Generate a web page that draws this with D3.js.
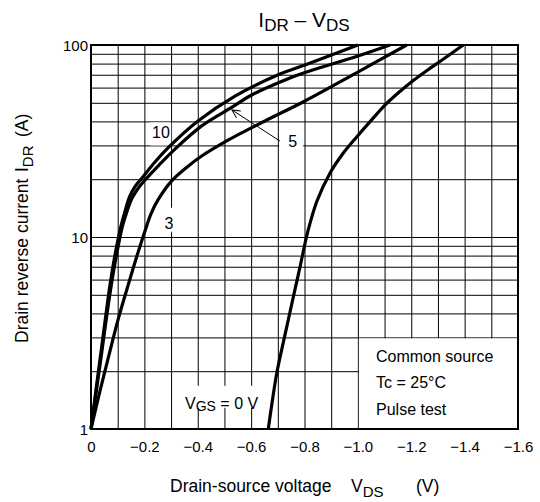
<!DOCTYPE html>
<html><head><meta charset="utf-8">
<script src="https://cdn.jsdelivr.net/npm/d3@7"></script>
<style>
body{margin:0;background:#fff}
text{font-family:"Liberation Sans",Arial,Helvetica,sans-serif;fill:#000}
</style>
</head><body>
<svg id="chart" width="540" height="502"></svg>
<script>
// ---- data ----
const xTickValues = [0, -0.2, -0.4, -0.6, -0.8, -1.0, -1.2, -1.4, -1.6];
const xGridValues = [-0.1, -0.2, -0.3, -0.4, -0.5, -0.6, -0.7, -0.8, -0.9, -1.0, -1.1, -1.2, -1.3, -1.4, -1.5];
const yTickValues = [1, 10, 100];
const yGridValues = [2, 3, 4, 5, 6, 7, 8, 9, 10, 20, 30, 40, 50, 60, 70, 80, 90];

// VGS = 10 V
const vds10 = [0, -0.0187, -0.0375, -0.0562, -0.0712, -0.0899, -0.1124, -0.1274, -0.1443, -0.1649, -0.1911, -0.2398, -0.296, -0.4009, -0.5395, -0.7081, -0.8018, -1.0];
const idr10 = [1, 1.60, 2.52, 3.97, 5.62, 8.06, 11.4, 13.6, 16.2, 18.3, 20.3, 24.6, 29.8, 40.2, 54.2, 70.6, 78.7, 100];

// VGS = 5 V
const vds5 = [0, -0.0206, -0.0405, -0.0599, -0.0761, -0.0955, -0.118, -0.1349, -0.1536, -0.1761, -0.2023, -0.2548, -0.3147, -0.4148, -0.5272, -0.6021, -0.7456, -0.8018, -1.0, -1.12];
const idr5 = [1, 1.60, 2.52, 3.97, 5.62, 8.06, 11.4, 13.6, 15.9, 17.9, 19.8, 23.7, 28.7, 37.9, 47.3, 54.9, 67.3, 71.9, 87.6, 100];

// VGS = 3 V
const vds3 = [0, -0.0337, -0.0674, -0.1012, -0.1349, -0.1686, -0.2023, -0.2248, -0.251, -0.3024, -0.356, -0.4148, -0.502, -0.652, -0.802, -1.0, -1.183];
const idr3 = [1, 1.58, 2.43, 3.70, 5.36, 7.68, 10.75, 13.2, 15.6, 19.6, 22.9, 26.4, 31.3, 40.2, 51.1, 72.3, 100];

// VGS = 0 V
const vds0 = [-0.6643, -0.6969, -0.725, -0.7531, -0.7831, -0.813, -0.8467, -0.8954, -0.9442, -0.9955, -1.0491, -1.1079, -1.1577, -1.2076, -1.2589, -1.3076, -1.3526, -1.3949];
const idr0 = [1, 1.98, 3.01, 4.53, 6.98, 10.75, 15.4, 21.5, 27.2, 33.2, 40.4, 49.6, 57.3, 65.3, 73.7, 82.1, 90.9, 100];

const curveLabels = ["10", "5", "3"];
const legendLines = ["Common source", "Tc = 25°C", "Pulse test"];

// ---- layout ----
const svg = d3.select("#chart");
const L = 91, R = 518, T = 45, B = 429;
const sx = d3.scaleLinear().domain([0, -1.6]).range([L, R]);
const sy = d3.scaleLog().domain([1, 100]).range([B, T]);

// grid
const grid = svg.append("g");
grid.append("g").attr("transform", `translate(0,${B})`)
  .call(d3.axisBottom(sx).tickValues(xGridValues).tickSize(-(B - T)).tickFormat(""))
  .call(g => g.select(".domain").remove())
  .call(g => g.selectAll("line").attr("stroke", "#000").attr("stroke-width", 1));
grid.append("g").attr("transform", `translate(${L},0)`)
  .call(d3.axisLeft(sy).tickValues(yGridValues).tickSize(-(R - L)).tickFormat(""))
  .call(g => g.select(".domain").remove())
  .call(g => g.selectAll("line").attr("stroke", "#000").attr("stroke-width", 1));

// legend box blanks the grid
svg.append("rect")
  .attr("x", sx(-1.0) + 1).attr("y", sy(3) + 1)
  .attr("width", R - sx(-1.0) - 1).attr("height", B - sy(3) - 1)
  .attr("fill", "#fff");

// white boxes behind labels
const boxes = [
  [sx(-0.222), sy(39.5), 21, 23],
  [sx(-0.27), sy(14.2), 13, 24],
  [sx(-0.705), sy(36), 24, 21],
  [sx(-0.335), sy(2.95) + 47, 80, 22]
];
svg.append("g").selectAll("rect").data(boxes).join("rect")
  .attr("x", d => d[0]).attr("y", d => d[1]).attr("width", d => d[2]).attr("height", d => d[3])
  .attr("fill", "#fff");

// frame
svg.append("rect").attr("x", L).attr("y", T).attr("width", R - L).attr("height", B - T)
  .attr("fill", "none").attr("stroke", "#000").attr("stroke-width", 2);

// curves
const line = d3.line().x(d => sx(d[0])).y(d => sy(d[1])).curve(d3.curveCatmullRom.alpha(0.5));
const series = [[vds10, idr10], [vds5, idr5], [vds3, idr3], [vds0, idr0]];
svg.append("g").selectAll("path").data(series).join("path")
  .attr("d", s => line(s[0].map((v, i) => [v, s[1][i]])))
  .attr("fill", "none").attr("stroke", "#000").attr("stroke-width", 3.2)
  .attr("stroke-linejoin", "round");

// tick labels
svg.append("g").attr("transform", `translate(0,${B})`)
  .call(d3.axisBottom(sx).tickValues(xTickValues).tickSize(0).tickPadding(0)
    .tickFormat(d => d === 0 ? "0" : d3.format(".1f")(d)))
  .call(g => g.select(".domain").remove())
  .call(g => g.selectAll("text").attr("y", 22.5).attr("dy", null)
    .style("font-size", "15px").style("font-family", '"Liberation Sans",Arial,sans-serif').attr("fill", "#000"));
svg.append("g").attr("transform", `translate(${L},0)`)
  .call(d3.axisLeft(sy).tickValues(yTickValues).tickSize(0).tickPadding(0).tickFormat(d3.format("d")))
  .call(g => g.select(".domain").remove())
  .call(g => g.selectAll("text").attr("x", -3).attr("dy", "0.36em")
    .style("font-size", "15px").style("font-family", '"Liberation Sans",Arial,sans-serif').attr("fill", "#000"));

// title
const title = svg.append("text").attr("x", 304).attr("y", 27).attr("text-anchor", "middle").style("font-size", "21px");
title.append("tspan").text("I");
title.append("tspan").attr("dy", 4).style("font-size", "17px").text("DR");
title.append("tspan").attr("dy", -4).text(" – V");
title.append("tspan").attr("dy", 4).style("font-size", "17px").text("DS");

// x axis label
const xl = svg.append("text").attr("y", 491.5).style("font-size", "17.5px");
xl.append("tspan").attr("x", 170).text("Drain-source voltage");
xl.append("tspan").attr("x", 351).text("V");
xl.append("tspan").attr("dy", 5).style("font-size", "15px").text("DS");
xl.append("tspan").attr("x", 416).attr("dy", -5).text("(V)");

// y axis label
const yl = svg.append("text").attr("transform", "translate(28,0) rotate(-90)").style("font-size", "17.5px");
yl.append("tspan").attr("x", -343).text("Drain reverse current");
yl.append("tspan").attr("x", -172).text("I");
yl.append("tspan").attr("dy", 5).style("font-size", "15px").text("DR");
yl.append("tspan").attr("x", -137).attr("dy", -5).text("(A)");

// curve labels
const lab = svg.append("g").style("font-size", "16px");
lab.append("text").attr("x", sx(-0.262)).attr("y", sy(32.6)).attr("text-anchor", "middle").text(curveLabels[0]);
lab.append("text").attr("x", sx(-0.756)).attr("y", sy(29.5)).attr("text-anchor", "middle").text(curveLabels[1]);
lab.append("text").attr("x", sx(-0.292)).attr("y", sy(11.07)).attr("text-anchor", "middle").text(curveLabels[2]);

// arrow for "5"
svg.append("defs").append("marker").attr("id", "ah").attr("viewBox", "-10 -6 12 12")
  .attr("markerWidth", 12).attr("markerHeight", 12).attr("refX", 0).attr("refY", 0)
  .attr("orient", "auto").attr("markerUnits", "userSpaceOnUse")
  .append("path").attr("d", "M-8,-4 L0,0 L-8,4").attr("fill", "none").attr("stroke", "#000").attr("stroke-width", 1);
svg.append("line").attr("x1", sx(-0.708)).attr("y1", sy(31.6)).attr("x2", sx(-0.528)).attr("y2", sy(45.9))
  .attr("stroke", "#000").attr("stroke-width", 1).attr("marker-end", "url(#ah)");

// VGS label
const vg = svg.append("text").attr("x", 185).attr("y", 408.5).style("font-size", "16px");
vg.append("tspan").text("V");
vg.append("tspan").attr("dy", 2.5).style("font-size", "14px").text("GS");
vg.append("tspan").attr("dy", -2.5).text(" = 0 V");

// legend text
svg.append("g").style("font-size", "16px").selectAll("text").data(legendLines).join("text")
  .attr("x", 376).attr("y", (d, i) => 361.5 + i * 26.7).text(d => d);
</script>
</body></html>
